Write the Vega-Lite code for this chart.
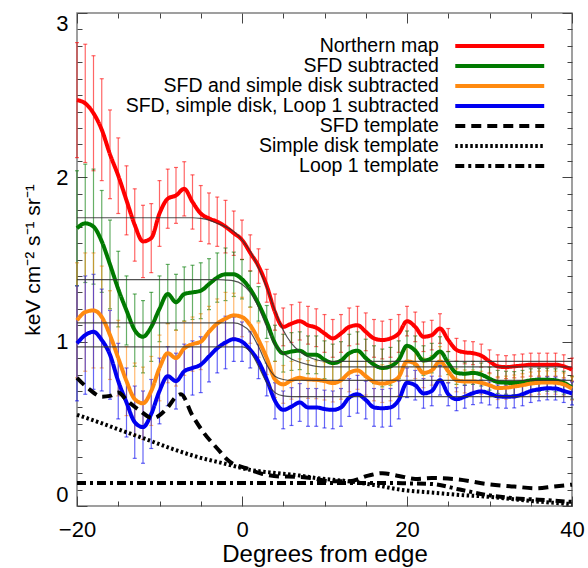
{
  "$schema": "https://vega.github.io/schema/vega-lite/v6.json",
  "width": 495,
  "height": 493,
  "autosize": "none",
  "padding": {"left": 77, "top": 13, "right": 16, "bottom": 62},
  "background": "white",
  "config": {
    "view": {"stroke": "#808080", "strokeWidth": 1.5},
    "font": "Liberation Sans",
    "legend": {"rowPadding": -1.2},
    "axis": {
      "labelFont": "Liberation Sans",
      "titleFont": "Liberation Sans",
      "labelFontSize": 22,
      "titleFontSize": 24,
      "titleFontWeight": "normal",
      "labelColor": "black",
      "titleColor": "black",
      "domain": false,
      "grid": false,
      "tickColor": "#444",
      "tickWidth": 1,
      "labelOverlap": false,
      "labelFlush": false
    }
  },
  "datasets": {
    "obs": [
      {"s":"Northern map","x":-20,"y":2.47,"e":0.35},{"s":"Northern map","x":-19,"y":2.45,"e":0.36},{"s":"Northern map","x":-18,"y":2.39,"e":0.35},{"s":"Northern map","x":-17,"y":2.29,"e":0.31},{"s":"Northern map","x":-16,"y":2.14,"e":0.27},{"s":"Northern map","x":-15,"y":2.01,"e":0.23},{"s":"Northern map","x":-14,"y":1.86,"e":0.21},{"s":"Northern map","x":-13,"y":1.71,"e":0.22},{"s":"Northern map","x":-12,"y":1.61,"e":0.22},{"s":"Northern map","x":-11,"y":1.63,"e":0.21},{"s":"Northern map","x":-10,"y":1.78,"e":0.2},{"s":"Northern map","x":-9,"y":1.87,"e":0.18},{"s":"Northern map","x":-8,"y":1.89,"e":0.17},{"s":"Northern map","x":-7,"y":1.93,"e":0.165},{"s":"Northern map","x":-6,"y":1.85,"e":0.165},{"s":"Northern map","x":-5,"y":1.78,"e":0.17},{"s":"Northern map","x":-4,"y":1.75,"e":0.155},{"s":"Northern map","x":-3,"y":1.73,"e":0.15},{"s":"Northern map","x":-2,"y":1.7,"e":0.16},{"s":"Northern map","x":-1,"y":1.66,"e":0.135},
      {"s":"Northern map","x":0,"y":1.62,"e":0.12},{"s":"Northern map","x":1,"y":1.54,"e":0.11},{"s":"Northern map","x":2,"y":1.46,"e":0.105},{"s":"Northern map","x":3,"y":1.34,"e":0.1},{"s":"Northern map","x":4,"y":1.18,"e":0.11},{"s":"Northern map","x":5,"y":1.09,"e":0.115},{"s":"Northern map","x":6,"y":1.11,"e":0.115},{"s":"Northern map","x":7,"y":1.125,"e":0.115},{"s":"Northern map","x":8,"y":1.1,"e":0.115},{"s":"Northern map","x":9,"y":1.085,"e":0.115},{"s":"Northern map","x":10,"y":1.05,"e":0.115},{"s":"Northern map","x":11,"y":1.02,"e":0.115},{"s":"Northern map","x":12,"y":1.05,"e":0.115},{"s":"Northern map","x":13,"y":1.09,"e":0.115},{"s":"Northern map","x":14,"y":1.1,"e":0.115},{"s":"Northern map","x":15,"y":1.06,"e":0.115},{"s":"Northern map","x":16,"y":1.02,"e":0.115},{"s":"Northern map","x":17,"y":1.01,"e":0.115},{"s":"Northern map","x":18,"y":1.02,"e":0.115},{"s":"Northern map","x":19,"y":1.05,"e":0.115},
      {"s":"Northern map","x":20,"y":1.125,"e":0.09},{"s":"Northern map","x":21,"y":1.09,"e":0.09},{"s":"Northern map","x":22,"y":1.03,"e":0.09},{"s":"Northern map","x":23,"y":1.04,"e":0.09},{"s":"Northern map","x":24,"y":1.08,"e":0.09},{"s":"Northern map","x":25,"y":1.01,"e":0.07},{"s":"Northern map","x":26,"y":0.95,"e":0.07},{"s":"Northern map","x":27,"y":0.935,"e":0.07},{"s":"Northern map","x":28,"y":0.93,"e":0.07},{"s":"Northern map","x":29,"y":0.915,"e":0.07},{"s":"Northern map","x":30,"y":0.88,"e":0.07},{"s":"Northern map","x":31,"y":0.85,"e":0.07},{"s":"Northern map","x":32,"y":0.845,"e":0.07},{"s":"Northern map","x":33,"y":0.85,"e":0.07},{"s":"Northern map","x":34,"y":0.855,"e":0.07},{"s":"Northern map","x":35,"y":0.86,"e":0.07},{"s":"Northern map","x":36,"y":0.86,"e":0.07},{"s":"Northern map","x":37,"y":0.86,"e":0.07},{"s":"Northern map","x":38,"y":0.86,"e":0.07},{"s":"Northern map","x":39,"y":0.85,"e":0.07},{"s":"Northern map","x":40,"y":0.83,"e":0.07},

      {"s":"SFD subtracted","x":-20,"y":1.69,"e":0.35},{"s":"SFD subtracted","x":-19,"y":1.72,"e":0.36},{"s":"SFD subtracted","x":-18,"y":1.7,"e":0.35},{"s":"SFD subtracted","x":-17,"y":1.61,"e":0.31},{"s":"SFD subtracted","x":-16,"y":1.47,"e":0.27},{"s":"SFD subtracted","x":-15,"y":1.32,"e":0.23},{"s":"SFD subtracted","x":-14,"y":1.19,"e":0.21},{"s":"SFD subtracted","x":-13,"y":1.07,"e":0.22},{"s":"SFD subtracted","x":-12,"y":1.03,"e":0.22},{"s":"SFD subtracted","x":-11,"y":1.09,"e":0.21},{"s":"SFD subtracted","x":-10,"y":1.2,"e":0.2},{"s":"SFD subtracted","x":-9,"y":1.29,"e":0.18},{"s":"SFD subtracted","x":-8,"y":1.24,"e":0.17},{"s":"SFD subtracted","x":-7,"y":1.29,"e":0.165},{"s":"SFD subtracted","x":-6,"y":1.3,"e":0.165},{"s":"SFD subtracted","x":-5,"y":1.31,"e":0.17},{"s":"SFD subtracted","x":-4,"y":1.35,"e":0.155},{"s":"SFD subtracted","x":-3,"y":1.39,"e":0.15},{"s":"SFD subtracted","x":-2,"y":1.41,"e":0.16},{"s":"SFD subtracted","x":-1,"y":1.41,"e":0.135},
      {"s":"SFD subtracted","x":0,"y":1.38,"e":0.12},{"s":"SFD subtracted","x":1,"y":1.32,"e":0.11},{"s":"SFD subtracted","x":2,"y":1.23,"e":0.105},{"s":"SFD subtracted","x":3,"y":1.12,"e":0.1},{"s":"SFD subtracted","x":4,"y":0.99,"e":0.11},{"s":"SFD subtracted","x":5,"y":0.93,"e":0.115},{"s":"SFD subtracted","x":6,"y":0.94,"e":0.115},{"s":"SFD subtracted","x":7,"y":0.945,"e":0.115},{"s":"SFD subtracted","x":8,"y":0.92,"e":0.115},{"s":"SFD subtracted","x":9,"y":0.92,"e":0.115},{"s":"SFD subtracted","x":10,"y":0.89,"e":0.115},{"s":"SFD subtracted","x":11,"y":0.87,"e":0.115},{"s":"SFD subtracted","x":12,"y":0.885,"e":0.115},{"s":"SFD subtracted","x":13,"y":0.93,"e":0.115},{"s":"SFD subtracted","x":14,"y":0.945,"e":0.115},{"s":"SFD subtracted","x":15,"y":0.9,"e":0.115},{"s":"SFD subtracted","x":16,"y":0.86,"e":0.115},{"s":"SFD subtracted","x":17,"y":0.84,"e":0.115},{"s":"SFD subtracted","x":18,"y":0.85,"e":0.115},{"s":"SFD subtracted","x":19,"y":0.89,"e":0.115},
      {"s":"SFD subtracted","x":20,"y":0.975,"e":0.09},{"s":"SFD subtracted","x":21,"y":0.945,"e":0.09},{"s":"SFD subtracted","x":22,"y":0.885,"e":0.09},{"s":"SFD subtracted","x":23,"y":0.9,"e":0.09},{"s":"SFD subtracted","x":24,"y":0.94,"e":0.09},{"s":"SFD subtracted","x":25,"y":0.87,"e":0.07},{"s":"SFD subtracted","x":26,"y":0.81,"e":0.07},{"s":"SFD subtracted","x":27,"y":0.805,"e":0.07},{"s":"SFD subtracted","x":28,"y":0.81,"e":0.07},{"s":"SFD subtracted","x":29,"y":0.8,"e":0.07},{"s":"SFD subtracted","x":30,"y":0.775,"e":0.07},{"s":"SFD subtracted","x":31,"y":0.755,"e":0.07},{"s":"SFD subtracted","x":32,"y":0.75,"e":0.07},{"s":"SFD subtracted","x":33,"y":0.748,"e":0.07},{"s":"SFD subtracted","x":34,"y":0.755,"e":0.07},{"s":"SFD subtracted","x":35,"y":0.765,"e":0.07},{"s":"SFD subtracted","x":36,"y":0.768,"e":0.07},{"s":"SFD subtracted","x":37,"y":0.768,"e":0.07},{"s":"SFD subtracted","x":38,"y":0.765,"e":0.07},{"s":"SFD subtracted","x":39,"y":0.75,"e":0.07},{"s":"SFD subtracted","x":40,"y":0.72,"e":0.07},

      {"s":"SFD and simple disk subtracted","x":-20,"y":1.13,"e":0.35},{"s":"SFD and simple disk subtracted","x":-19,"y":1.18,"e":0.36},{"s":"SFD and simple disk subtracted","x":-18,"y":1.19,"e":0.35},{"s":"SFD and simple disk subtracted","x":-17,"y":1.15,"e":0.31},{"s":"SFD and simple disk subtracted","x":-16,"y":1.04,"e":0.27},{"s":"SFD and simple disk subtracted","x":-15,"y":0.9,"e":0.23},{"s":"SFD and simple disk subtracted","x":-14,"y":0.76,"e":0.21},{"s":"SFD and simple disk subtracted","x":-13,"y":0.65,"e":0.22},{"s":"SFD and simple disk subtracted","x":-12,"y":0.625,"e":0.22},{"s":"SFD and simple disk subtracted","x":-11,"y":0.7,"e":0.21},{"s":"SFD and simple disk subtracted","x":-10,"y":0.84,"e":0.2},{"s":"SFD and simple disk subtracted","x":-9,"y":0.93,"e":0.18},{"s":"SFD and simple disk subtracted","x":-8,"y":0.9,"e":0.17},{"s":"SFD and simple disk subtracted","x":-7,"y":0.96,"e":0.165},{"s":"SFD and simple disk subtracted","x":-6,"y":0.985,"e":0.165},{"s":"SFD and simple disk subtracted","x":-5,"y":1.0,"e":0.17},{"s":"SFD and simple disk subtracted","x":-4,"y":1.06,"e":0.155},{"s":"SFD and simple disk subtracted","x":-3,"y":1.11,"e":0.15},{"s":"SFD and simple disk subtracted","x":-2,"y":1.14,"e":0.16},{"s":"SFD and simple disk subtracted","x":-1,"y":1.16,"e":0.135},
      {"s":"SFD and simple disk subtracted","x":0,"y":1.15,"e":0.12},{"s":"SFD and simple disk subtracted","x":1,"y":1.1,"e":0.11},{"s":"SFD and simple disk subtracted","x":2,"y":1.01,"e":0.105},{"s":"SFD and simple disk subtracted","x":3,"y":0.9,"e":0.1},{"s":"SFD and simple disk subtracted","x":4,"y":0.77,"e":0.11},{"s":"SFD and simple disk subtracted","x":5,"y":0.74,"e":0.115},{"s":"SFD and simple disk subtracted","x":6,"y":0.765,"e":0.115},{"s":"SFD and simple disk subtracted","x":7,"y":0.78,"e":0.115},{"s":"SFD and simple disk subtracted","x":8,"y":0.77,"e":0.115},{"s":"SFD and simple disk subtracted","x":9,"y":0.768,"e":0.115},{"s":"SFD and simple disk subtracted","x":10,"y":0.76,"e":0.115},{"s":"SFD and simple disk subtracted","x":11,"y":0.748,"e":0.115},{"s":"SFD and simple disk subtracted","x":12,"y":0.765,"e":0.115},{"s":"SFD and simple disk subtracted","x":13,"y":0.81,"e":0.115},{"s":"SFD and simple disk subtracted","x":14,"y":0.825,"e":0.115},{"s":"SFD and simple disk subtracted","x":15,"y":0.79,"e":0.115},{"s":"SFD and simple disk subtracted","x":16,"y":0.755,"e":0.115},{"s":"SFD and simple disk subtracted","x":17,"y":0.745,"e":0.115},{"s":"SFD and simple disk subtracted","x":18,"y":0.755,"e":0.115},{"s":"SFD and simple disk subtracted","x":19,"y":0.785,"e":0.115},
      {"s":"SFD and simple disk subtracted","x":20,"y":0.88,"e":0.09},{"s":"SFD and simple disk subtracted","x":21,"y":0.865,"e":0.09},{"s":"SFD and simple disk subtracted","x":22,"y":0.81,"e":0.09},{"s":"SFD and simple disk subtracted","x":23,"y":0.825,"e":0.09},{"s":"SFD and simple disk subtracted","x":24,"y":0.88,"e":0.09},{"s":"SFD and simple disk subtracted","x":25,"y":0.82,"e":0.07},{"s":"SFD and simple disk subtracted","x":26,"y":0.765,"e":0.07},{"s":"SFD and simple disk subtracted","x":27,"y":0.758,"e":0.07},{"s":"SFD and simple disk subtracted","x":28,"y":0.758,"e":0.07},{"s":"SFD and simple disk subtracted","x":29,"y":0.75,"e":0.07},{"s":"SFD and simple disk subtracted","x":30,"y":0.735,"e":0.07},{"s":"SFD and simple disk subtracted","x":31,"y":0.718,"e":0.07},{"s":"SFD and simple disk subtracted","x":32,"y":0.72,"e":0.07},{"s":"SFD and simple disk subtracted","x":33,"y":0.727,"e":0.07},{"s":"SFD and simple disk subtracted","x":34,"y":0.735,"e":0.07},{"s":"SFD and simple disk subtracted","x":35,"y":0.745,"e":0.07},{"s":"SFD and simple disk subtracted","x":36,"y":0.75,"e":0.07},{"s":"SFD and simple disk subtracted","x":37,"y":0.752,"e":0.07},{"s":"SFD and simple disk subtracted","x":38,"y":0.75,"e":0.07},{"s":"SFD and simple disk subtracted","x":39,"y":0.74,"e":0.07},{"s":"SFD and simple disk subtracted","x":40,"y":0.715,"e":0.07},

      {"s":"SFD, simple disk, Loop 1 subtracted","x":-20,"y":0.99,"e":0.35},{"s":"SFD, simple disk, Loop 1 subtracted","x":-19,"y":1.04,"e":0.36},{"s":"SFD, simple disk, Loop 1 subtracted","x":-18,"y":1.06,"e":0.35},{"s":"SFD, simple disk, Loop 1 subtracted","x":-17,"y":1.01,"e":0.31},{"s":"SFD, simple disk, Loop 1 subtracted","x":-16,"y":0.92,"e":0.27},{"s":"SFD, simple disk, Loop 1 subtracted","x":-15,"y":0.76,"e":0.23},{"s":"SFD, simple disk, Loop 1 subtracted","x":-14,"y":0.63,"e":0.21},{"s":"SFD, simple disk, Loop 1 subtracted","x":-13,"y":0.51,"e":0.22},{"s":"SFD, simple disk, Loop 1 subtracted","x":-12,"y":0.48,"e":0.22},{"s":"SFD, simple disk, Loop 1 subtracted","x":-11,"y":0.56,"e":0.21},{"s":"SFD, simple disk, Loop 1 subtracted","x":-10,"y":0.7,"e":0.2},{"s":"SFD, simple disk, Loop 1 subtracted","x":-9,"y":0.79,"e":0.18},{"s":"SFD, simple disk, Loop 1 subtracted","x":-8,"y":0.76,"e":0.17},{"s":"SFD, simple disk, Loop 1 subtracted","x":-7,"y":0.82,"e":0.165},{"s":"SFD, simple disk, Loop 1 subtracted","x":-6,"y":0.84,"e":0.165},{"s":"SFD, simple disk, Loop 1 subtracted","x":-5,"y":0.86,"e":0.17},{"s":"SFD, simple disk, Loop 1 subtracted","x":-4,"y":0.91,"e":0.155},{"s":"SFD, simple disk, Loop 1 subtracted","x":-3,"y":0.96,"e":0.15},{"s":"SFD, simple disk, Loop 1 subtracted","x":-2,"y":0.995,"e":0.16},{"s":"SFD, simple disk, Loop 1 subtracted","x":-1,"y":1.015,"e":0.135},
      {"s":"SFD, simple disk, Loop 1 subtracted","x":0,"y":1.0,"e":0.12},{"s":"SFD, simple disk, Loop 1 subtracted","x":1,"y":0.95,"e":0.11},{"s":"SFD, simple disk, Loop 1 subtracted","x":2,"y":0.88,"e":0.105},{"s":"SFD, simple disk, Loop 1 subtracted","x":3,"y":0.77,"e":0.1},{"s":"SFD, simple disk, Loop 1 subtracted","x":4,"y":0.64,"e":0.11},{"s":"SFD, simple disk, Loop 1 subtracted","x":5,"y":0.585,"e":0.115},{"s":"SFD, simple disk, Loop 1 subtracted","x":6,"y":0.605,"e":0.115},{"s":"SFD, simple disk, Loop 1 subtracted","x":7,"y":0.63,"e":0.115},{"s":"SFD, simple disk, Loop 1 subtracted","x":8,"y":0.6,"e":0.115},{"s":"SFD, simple disk, Loop 1 subtracted","x":9,"y":0.6,"e":0.115},{"s":"SFD, simple disk, Loop 1 subtracted","x":10,"y":0.59,"e":0.115},{"s":"SFD, simple disk, Loop 1 subtracted","x":11,"y":0.585,"e":0.115},{"s":"SFD, simple disk, Loop 1 subtracted","x":12,"y":0.6,"e":0.115},{"s":"SFD, simple disk, Loop 1 subtracted","x":13,"y":0.66,"e":0.115},{"s":"SFD, simple disk, Loop 1 subtracted","x":14,"y":0.68,"e":0.115},{"s":"SFD, simple disk, Loop 1 subtracted","x":15,"y":0.645,"e":0.115},{"s":"SFD, simple disk, Loop 1 subtracted","x":16,"y":0.6,"e":0.115},{"s":"SFD, simple disk, Loop 1 subtracted","x":17,"y":0.595,"e":0.115},{"s":"SFD, simple disk, Loop 1 subtracted","x":18,"y":0.6,"e":0.115},{"s":"SFD, simple disk, Loop 1 subtracted","x":19,"y":0.645,"e":0.115},
      {"s":"SFD, simple disk, Loop 1 subtracted","x":20,"y":0.75,"e":0.09},{"s":"SFD, simple disk, Loop 1 subtracted","x":21,"y":0.735,"e":0.09},{"s":"SFD, simple disk, Loop 1 subtracted","x":22,"y":0.685,"e":0.09},{"s":"SFD, simple disk, Loop 1 subtracted","x":23,"y":0.7,"e":0.09},{"s":"SFD, simple disk, Loop 1 subtracted","x":24,"y":0.765,"e":0.09},{"s":"SFD, simple disk, Loop 1 subtracted","x":25,"y":0.68,"e":0.07},{"s":"SFD, simple disk, Loop 1 subtracted","x":26,"y":0.65,"e":0.07},{"s":"SFD, simple disk, Loop 1 subtracted","x":27,"y":0.665,"e":0.07},{"s":"SFD, simple disk, Loop 1 subtracted","x":28,"y":0.687,"e":0.07},{"s":"SFD, simple disk, Loop 1 subtracted","x":29,"y":0.697,"e":0.07},{"s":"SFD, simple disk, Loop 1 subtracted","x":30,"y":0.685,"e":0.07},{"s":"SFD, simple disk, Loop 1 subtracted","x":31,"y":0.667,"e":0.07},{"s":"SFD, simple disk, Loop 1 subtracted","x":32,"y":0.665,"e":0.07},{"s":"SFD, simple disk, Loop 1 subtracted","x":33,"y":0.667,"e":0.07},{"s":"SFD, simple disk, Loop 1 subtracted","x":34,"y":0.68,"e":0.07},{"s":"SFD, simple disk, Loop 1 subtracted","x":35,"y":0.7,"e":0.07},{"s":"SFD, simple disk, Loop 1 subtracted","x":36,"y":0.71,"e":0.07},{"s":"SFD, simple disk, Loop 1 subtracted","x":37,"y":0.716,"e":0.07},{"s":"SFD, simple disk, Loop 1 subtracted","x":38,"y":0.715,"e":0.07},{"s":"SFD, simple disk, Loop 1 subtracted","x":39,"y":0.7,"e":0.07},{"s":"SFD, simple disk, Loop 1 subtracted","x":40,"y":0.685,"e":0.07}
    ],
    "tmpl": [
      {"s":"SFD template","x":-20,"y":0.78},{"s":"SFD template","x":-18.5,"y":0.71},{"s":"SFD template","x":-17,"y":0.665},{"s":"SFD template","x":-16,"y":0.67},{"s":"SFD template","x":-15,"y":0.69},{"s":"SFD template","x":-14,"y":0.645},{"s":"SFD template","x":-12.5,"y":0.585},{"s":"SFD template","x":-10.8,"y":0.535},{"s":"SFD template","x":-9,"y":0.6},{"s":"SFD template","x":-8,"y":0.665},{"s":"SFD template","x":-7.4,"y":0.68},{"s":"SFD template","x":-6,"y":0.55},{"s":"SFD template","x":-4.7,"y":0.45},{"s":"SFD template","x":-3,"y":0.35},{"s":"SFD template","x":-1.5,"y":0.27},{"s":"SFD template","x":0.5,"y":0.23},{"s":"SFD template","x":2.5,"y":0.195},{"s":"SFD template","x":4.5,"y":0.18},{"s":"SFD template","x":6.5,"y":0.178},{"s":"SFD template","x":8.5,"y":0.17},{"s":"SFD template","x":10.5,"y":0.152},{"s":"SFD template","x":13,"y":0.15},{"s":"SFD template","x":15.3,"y":0.185},{"s":"SFD template","x":17,"y":0.2},{"s":"SFD template","x":19,"y":0.183},{"s":"SFD template","x":21,"y":0.165},{"s":"SFD template","x":23,"y":0.17},{"s":"SFD template","x":26,"y":0.163},{"s":"SFD template","x":29.5,"y":0.135},{"s":"SFD template","x":33,"y":0.118},{"s":"SFD template","x":35.7,"y":0.108},{"s":"SFD template","x":37.7,"y":0.118},{"s":"SFD template","x":40,"y":0.13},
      {"s":"Simple disk template","x":-20,"y":0.555},{"s":"Simple disk template","x":-17.6,"y":0.514},{"s":"Simple disk template","x":-14.8,"y":0.463},{"s":"Simple disk template","x":-12,"y":0.413},{"s":"Simple disk template","x":-8.7,"y":0.352},{"s":"Simple disk template","x":-5.5,"y":0.3},{"s":"Simple disk template","x":-2.3,"y":0.26},{"s":"Simple disk template","x":1,"y":0.22},{"s":"Simple disk template","x":4.2,"y":0.2},{"s":"Simple disk template","x":7,"y":0.185},{"s":"Simple disk template","x":9,"y":0.17},{"s":"Simple disk template","x":13,"y":0.15},{"s":"Simple disk template","x":16,"y":0.128},{"s":"Simple disk template","x":19.4,"y":0.098},{"s":"Simple disk template","x":23.2,"y":0.081},{"s":"Simple disk template","x":26.4,"y":0.067},{"s":"Simple disk template","x":29.7,"y":0.057},{"s":"Simple disk template","x":32.9,"y":0.041},{"s":"Simple disk template","x":36.1,"y":0.026},{"s":"Simple disk template","x":40,"y":0.012},
      {"s":"Loop 1 template","x":-20,"y":0.14},{"s":"Loop 1 template","x":0,"y":0.14},{"s":"Loop 1 template","x":10,"y":0.14},{"s":"Loop 1 template","x":18,"y":0.14},{"s":"Loop 1 template","x":20,"y":0.138},{"s":"Loop 1 template","x":23,"y":0.134},{"s":"Loop 1 template","x":26.4,"y":0.1},{"s":"Loop 1 template","x":29.7,"y":0.067},{"s":"Loop 1 template","x":33,"y":0.047},{"s":"Loop 1 template","x":36,"y":0.038},{"s":"Loop 1 template","x":40,"y":0.025}
    ],
    "fit": [
      {"f":"red","x":-20,"y":1.754},{"f":"red","x":-6,"y":1.754},{"f":"red","x":-5,"y":1.75},{"f":"red","x":-4,"y":1.74},{"f":"red","x":-3,"y":1.72},{"f":"red","x":-2,"y":1.7},{"f":"red","x":-1,"y":1.67},{"f":"red","x":0,"y":1.62},{"f":"red","x":1,"y":1.55},{"f":"red","x":2,"y":1.45},{"f":"red","x":3,"y":1.33},{"f":"red","x":4,"y":1.19},{"f":"red","x":5,"y":1.07},{"f":"red","x":6,"y":0.99},{"f":"red","x":7,"y":0.94},{"f":"red","x":8,"y":0.91},{"f":"red","x":9,"y":0.89},{"f":"red","x":10,"y":0.882},{"f":"red","x":12,"y":0.88},{"f":"red","x":40,"y":0.88},
      {"f":"green","x":-20,"y":1.378},{"f":"green","x":-3,"y":1.378},{"f":"green","x":-2,"y":1.375},{"f":"green","x":-1,"y":1.37},{"f":"green","x":0,"y":1.35},{"f":"green","x":1,"y":1.3},{"f":"green","x":2,"y":1.21},{"f":"green","x":3,"y":1.09},{"f":"green","x":4,"y":0.98},{"f":"green","x":5,"y":0.93},{"f":"green","x":6,"y":0.895},{"f":"green","x":7,"y":0.875},{"f":"green","x":8,"y":0.86},{"f":"green","x":9,"y":0.85},{"f":"green","x":10,"y":0.846},{"f":"green","x":40,"y":0.846},
      {"f":"orange","x":-20,"y":1.114},{"f":"orange","x":-1,"y":1.114},{"f":"orange","x":0,"y":1.1},{"f":"orange","x":1,"y":1.06},{"f":"orange","x":2,"y":0.97},{"f":"orange","x":3,"y":0.86},{"f":"orange","x":4,"y":0.79},{"f":"orange","x":5,"y":0.77},{"f":"orange","x":6,"y":0.764},{"f":"orange","x":40,"y":0.764},
      {"f":"blue","x":-20,"y":0.968},{"f":"blue","x":0,"y":0.968},{"f":"blue","x":1,"y":0.94},{"f":"blue","x":2,"y":0.85},{"f":"blue","x":3,"y":0.75},{"f":"blue","x":4,"y":0.69},{"f":"blue","x":5,"y":0.67},{"f":"blue","x":6,"y":0.666},{"f":"blue","x":40,"y":0.666}
    ]
  },
  "layer": [
    {
      "data": {"name": "obs"},
      "mark": {"type": "errorbar", "ticks": {"size": 4}, "thickness": 1.2, "opacity": 0.6},
      "encoding": {
        "x": {"field": "x", "type": "quantitative", "scale": {"domain": [-20, 40], "nice": false, "zero": false}, "axis": null},
        "y": {"field": "y", "type": "quantitative", "scale": {"domain": [0, 3], "nice": false, "zero": false}, "axis": null},
        "yError": {"field": "e"},
        "color": {"field": "s", "type": "nominal", "title": null,
          "scale": {"domain": ["Northern map","SFD subtracted","SFD and simple disk subtracted","SFD, simple disk, Loop 1 subtracted","SFD template","Simple disk template","Loop 1 template"],
                    "range": ["#ff0000","#007a00","#ff8a10","#0000f0","#000000","#000000","#000000"]}}
      }
    },
    {
      "data": {"name": "obs"},
      "mark": {"type": "line", "interpolate": "monotone"},
      "encoding": {
        "x": {"field": "x", "type": "quantitative", "scale": {"domain": [-20, 40], "nice": false, "zero": false},
          "axis": {"orient": "bottom", "title": "Degrees from edge", "values": [-20,-15,-10,-5,0,5,10,15,20,25,30,35,40],
                   "labelExpr": "datum.value % 20 === 0 ? datum.label : ''",
                   "tickSize": {"condition": {"test": "datum.value % 20 === 0", "value": -10}, "value": -5},
                   "labelPadding": 23, "titlePadding": -3}},
        "y": {"field": "y", "type": "quantitative", "scale": {"domain": [0, 3], "nice": false, "zero": false},
          "axis": {"orient": "left", "title": "keV cm⁻² s⁻¹ sr⁻¹", "titleFontSize": 21, "labelFlush": true,
                   "values": [0,0.1,0.2,0.3,0.4,0.5,0.6,0.7,0.8,0.9,1,1.1,1.2,1.3,1.4,1.5,1.6,1.7,1.8,1.9,2,2.1,2.2,2.3,2.4,2.5,2.6,2.7,2.8,2.9,3],
                   "labelExpr": "datum.value % 1 === 0 ? format(datum.value, 'd') : ''",
                   "tickSize": {"condition": {"test": "datum.value % 1 === 0", "value": -10}, "value": -5},
                   "labelPadding": 19, "titlePadding": 12}},
        "color": {"field": "s", "type": "nominal", "title": null,
          "scale": {"domain": ["Northern map","SFD subtracted","SFD and simple disk subtracted","SFD, simple disk, Loop 1 subtracted","SFD template","Simple disk template","Loop 1 template"],
                    "range": ["#ff0000","#007a00","#ff8a10","#0000f0","#000000","#000000","#000000"]},
          "legend": {"orient": "none", "legendX": 413, "legendY": 23.3, "padding": 0, "rowPadding": -1.2,
                     "symbolType": "M-5.93,0H5.93", "symbolSize": 225, "symbolStrokeWidth": 4, "symbolOpacity": 1,
                     "labelFont": "Liberation Sans", "labelFontSize": 19.5, "labelColor": "black", "labelLimit": 0,
                     "labelAlign": "right", "labelOffset": -70.6,
                     "encode": {"symbols": {"update": {"opacity": {"value": 1}, "strokeOpacity": {"value": 1}}}}}},
        "strokeDash": {"field": "s", "type": "nominal", "title": null,
          "scale": {"domain": ["Northern map","SFD subtracted","SFD and simple disk subtracted","SFD, simple disk, Loop 1 subtracted","SFD template","Simple disk template","Loop 1 template"],
                    "range": [[1,0],[1,0],[1,0],[1,0],[10,6],[2.5,2.5],[9,4,3,4]]},
          "legend": {"orient": "none", "legendX": 413, "legendY": 23.3, "padding": 0, "rowPadding": -1.2,
                     "symbolType": "M-5.93,0H5.93", "symbolSize": 225, "symbolStrokeWidth": 4, "symbolOpacity": 1,
                     "labelFont": "Liberation Sans", "labelFontSize": 19.5, "labelColor": "black", "labelLimit": 0,
                     "labelAlign": "right", "labelOffset": -70.6,
                     "encode": {"symbols": {"update": {"opacity": {"value": 1}, "strokeOpacity": {"value": 1}}}}}},
        "strokeWidth": {"field": "s", "type": "nominal", "title": null,
          "scale": {"domain": ["Northern map","SFD subtracted","SFD and simple disk subtracted","SFD, simple disk, Loop 1 subtracted","SFD template","Simple disk template","Loop 1 template"],
                    "range": [4,4,4,4,3.5,2.5,3.2]},
          "legend": {"orient": "none", "legendX": 413, "legendY": 23.3, "padding": 0, "rowPadding": -1.2,
                     "symbolType": "M-5.93,0H5.93", "symbolSize": 225, "symbolStrokeWidth": 4, "symbolOpacity": 1,
                     "labelFont": "Liberation Sans", "labelFontSize": 19.5, "labelColor": "black", "labelLimit": 0,
                     "labelAlign": "right", "labelOffset": -70.6,
                     "encode": {"symbols": {"update": {"opacity": {"value": 1}, "strokeOpacity": {"value": 1}}}}}}
      }
    },
    {
      "data": {"name": "tmpl"},
      "mark": {"type": "line", "interpolate": "monotone"},
      "encoding": {
        "x": {"field": "x", "type": "quantitative", "axis": null},
        "y": {"field": "y", "type": "quantitative", "axis": null},
        "color": {"field": "s", "type": "nominal", "title": null},
        "strokeDash": {"field": "s", "type": "nominal", "title": null},
        "strokeWidth": {"field": "s", "type": "nominal", "title": null}
      }
    },
    {
      "data": {"name": "fit"},
      "mark": {"type": "line", "interpolate": "monotone", "color": "#333333", "strokeWidth": 1.2, "opacity": 0.85},
      "encoding": {
        "x": {"field": "x", "type": "quantitative",
          "axis": {"orient": "top", "title": null, "labels": false, "values": [-20,-15,-10,-5,0,5,10,15,20,25,30,35,40],
                   "tickSize": {"condition": {"test": "datum.value % 20 === 0", "value": -10}, "value": -5}}},
        "y": {"field": "y", "type": "quantitative",
          "axis": {"orient": "right", "title": null, "labels": false,
                   "values": [0,0.1,0.2,0.3,0.4,0.5,0.6,0.7,0.8,0.9,1,1.1,1.2,1.3,1.4,1.5,1.6,1.7,1.8,1.9,2,2.1,2.2,2.3,2.4,2.5,2.6,2.7,2.8,2.9,3],
                   "tickSize": {"condition": {"test": "datum.value % 1 === 0", "value": -10}, "value": -5}}},
        "detail": {"field": "f", "type": "nominal"}
      }
    }
  ],
  "resolve": {"axis": {"x": "independent", "y": "independent"}}
}
